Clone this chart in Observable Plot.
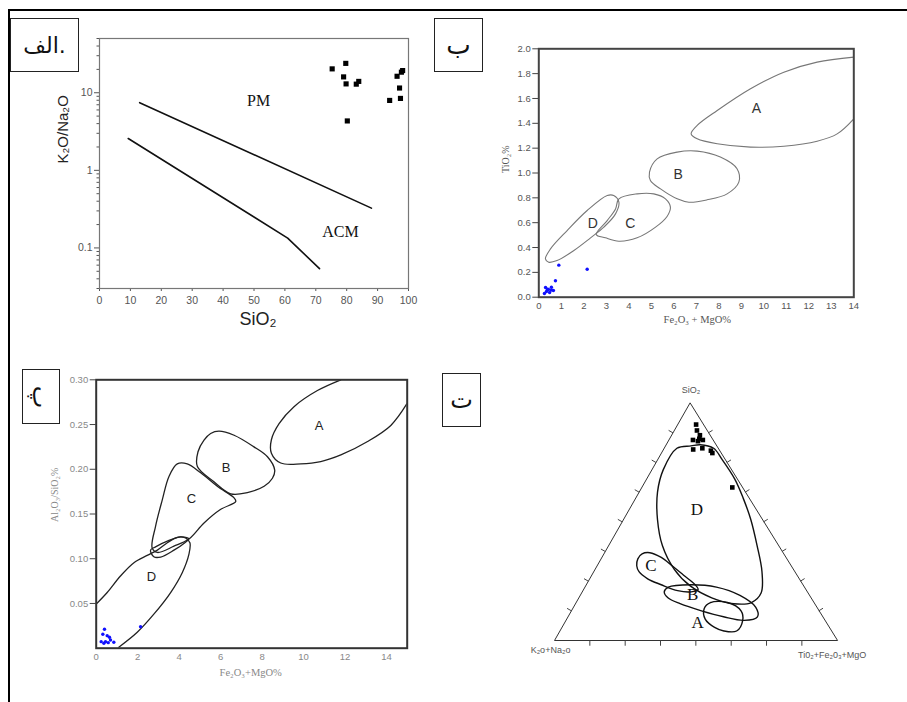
<!DOCTYPE html>
<html>
<head>
<meta charset="utf-8">
<script src="https://cdn.jsdelivr.net/npm/d3@7"></script>
<script src="https://cdn.jsdelivr.net/npm/@observablehq/plot@0.6"></script>
<style>
  html, body { margin: 0; padding: 0; background: #fff; }
  body { width: 907px; height: 702px; position: relative; overflow: hidden; }
  .panel { position: absolute; }
  .panel svg { display: block; max-width: none; }
  .rule { position: absolute; background: #000; z-index: 5; }
  .tag { position: absolute; box-sizing: border-box; border: 1.5px solid #222; background: #fff;
         font-family: "DejaVu Sans", sans-serif; color: #111; display: flex;
         align-items: center; justify-content: center; z-index: 4; }
</style>
</head>
<body>
<div class="rule" style="left:8px;top:9px;width:899px;height:2px"></div>
<div class="rule" style="left:8px;top:9px;width:2px;height:693px"></div>
<div class="tag" style="left:10px;top:18px;width:69px;height:54px;font-size:22px">الف.</div>
<div class="tag" style="left:434px;top:18px;width:49px;height:54px;font-size:26px">ب</div>
<div class="tag" style="left:22px;top:369px;width:38px;height:55px;font-size:24px"><span style="display:inline-block;transform:rotate(90deg)">پ</span></div>
<div class="tag" style="left:442px;top:373px;width:39px;height:54px;font-size:24px">ت</div>
<div class="panel" id="pA" style="left:0;top:0"></div>
<div class="panel" id="pB" style="left:450px;top:0"></div>
<div class="panel" id="pC" style="left:0;top:345px"></div>
<div class="panel" id="pD" style="left:450px;top:345px"></div>
<script>
const SANS = "'Liberation Sans', Arial, sans-serif";
const SERIF = "'Liberation Serif', 'Times New Roman', serif";

// ---------- Panel الف : SiO2 vs K2O/Na2O (log) ----------
const aSamplesSiO2 = [75.3, 79.7, 79.0, 79.8, 83.1, 83.9, 80.2, 93.9, 96.3, 97.7, 98.1, 97.1, 97.4];
const aSamplesRatio = [20.3, 23.9, 16.0, 13.0, 12.9, 14.0, 4.33, 7.96, 16.3, 18.4, 19.3, 11.5, 8.45];
const aUpperLineSiO2 = [13, 88];
const aUpperLineRatio = [7.45, 0.326];
const aLowerLineSiO2 = [9.3, 60.9, 71.2];
const aLowerLineRatio = [2.57, 0.134, 0.054];
const aFieldNames = ["PM", "ACM"];
const aFieldSiO2 = [51.5, 78];
const aFieldRatio = [7.97, 0.163];
const aXTicks = [0, 10, 20, 30, 40, 50, 60, 70, 80, 90, 100];
const aYTicks = [0.1, 1, 10];
const aYMinorTicks = [0.03, 0.04, 0.05, 0.06, 0.07, 0.08, 0.09, 0.2, 0.3, 0.4, 0.5, 0.6, 0.7, 0.8, 0.9,
                      2, 3, 4, 5, 6, 7, 8, 9, 20, 30, 40, 50];

// ---------- Panel ب : Fe2O3+MgO vs TiO2 ----------
const bFieldA = [[14.0,1.933],[12.37,1.893],[10.89,1.812],[9.41,1.678],[7.93,1.503],[7.04,1.383],[6.77,1.315],
                 [7.04,1.275],[7.93,1.235],[9.41,1.208],[10.89,1.216],[12.37,1.256],[13.26,1.315],[14.0,1.436]];
const bFieldB = [[4.92,1.007],[5.26,1.114],[6.15,1.168],[7.04,1.176],[8.07,1.128],[8.81,1.034],[8.89,0.926],
                 [8.37,0.832],[7.48,0.784],[6.67,0.765],[6.15,0.792],[5.41,0.872],[4.96,0.940]];
const bFieldC = [[3.56,0.792],[4.37,0.832],[5.11,0.832],[5.63,0.792],[5.85,0.725],[5.70,0.650],[5.19,0.564],
                 [4.37,0.478],[3.56,0.451],[2.96,0.478],[2.55,0.505],[3.04,0.617],[3.41,0.711]];
const bFieldD = [[0.296,0.309],[0.52,0.389],[1.26,0.537],[2.15,0.698],[3.04,0.819],[3.33,0.819],[3.56,0.765],
                 [3.41,0.671],[2.89,0.564],[2.30,0.478],[1.56,0.376],[0.81,0.295],[0.44,0.282]];
const bFieldLabels = ["A", "B", "C", "D"];
const bFieldLabelX = [9.67, 6.19, 4.07, 2.40];
const bFieldLabelY = [1.517, 0.988, 0.596, 0.596];
const bSamplesFeMg = [0.89, 2.15, 0.74, 0.30, 0.43, 0.56, 0.65, 0.34, 0.48, 0.25, 0.56, 0.39];
const bSamplesTiO2 = [0.258, 0.225, 0.132, 0.078, 0.062, 0.058, 0.054, 0.046, 0.038, 0.030, 0.080, 0.064];
const bXTicks = [0,1,2,3,4,5,6,7,8,9,10,11,12,13,14];
const bYTicks = [0,0.2,0.4,0.6,0.8,1.0,1.2,1.4,1.6,1.8,2.0];

// ---------- Panel پ : Fe2O3+MgO vs Al2O3/SiO2 ----------
const cFieldA = [[11.80,0.300],[10.67,0.288],[9.54,0.270],[8.82,0.251],[8.45,0.233],[8.45,0.218],[8.90,0.207],
                 [9.87,0.206],[10.83,0.2085],[11.80,0.216],[13.09,0.231],[14.21,0.249],[14.98,0.273]];
const cFieldB = [[5.92,0.2426],[6.65,0.238],[7.61,0.225],[8.26,0.214],[8.61,0.199],[8.50,0.190],[8.10,0.181],
                 [7.29,0.174],[6.49,0.1726],[5.68,0.186],[4.88,0.203],[4.91,0.2196],[5.20,0.2326],[5.52,0.240]];
const cFieldC = [[3.91,0.206],[4.39,0.206],[5.04,0.196],[5.84,0.181],[6.65,0.168],[6.73,0.164],[5.99,0.155],
                 [5.20,0.140],[4.47,0.122],[3.75,0.114],[2.95,0.107],[2.70,0.112],[2.86,0.136],[3.19,0.166],[3.51,0.192]];
const cFieldD = [[0,0.0493],[0.53,0.0622],[1.17,0.0807],[1.82,0.0956],[2.46,0.1037],[2.95,0.1096],[3.43,0.1178],
                 [3.91,0.124],[4.31,0.1233],[4.52,0.1178],[4.47,0.1048],[4.15,0.0844],[3.59,0.0622],[2.78,0.038],
                 [1.98,0.0178],[1.09,0.0011]];
const cFieldDInner = [[2.62,0.1096],[2.78,0.1022],[3.11,0.1019],[3.75,0.1096],[4.31,0.1185],[4.47,0.1222],
                      [4.07,0.1244],[3.43,0.1196],[2.86,0.1133]];
const cFieldLabels = ["A", "B", "C", "D"];
const cFieldLabelX = [10.75, 6.26, 4.59, 2.66];
const cFieldLabelY = [0.249, 0.202, 0.167, 0.080];
const cSamplesFeMg = [0.40, 0.32, 0.53, 0.64, 0.24, 0.45, 0.69, 0.85, 0.37, 0.58, 2.14];
const cSamplesRatio = [0.0211, 0.0156, 0.014, 0.0122, 0.0073, 0.0073, 0.0092, 0.0067, 0.0056, 0.0062, 0.024];
const cXTicks = [0, 2, 4, 6, 8, 10, 12, 14];
const cYTicks = [0.05, 0.10, 0.15, 0.20, 0.25, 0.30];

// ---------- Panel ت : ternary [SiO2, K2O+Na2O, TiO2+Fe2O3+MgO] % ----------
const dFieldA = [[13.5,40,46.5],[16,36.5,47.5],[16,30.5,53.5],[12.5,27.5,60],[8.5,29,62.5],[4,33.5,62.5],
                 [4,38,58],[5.5,40.5,54],[9,42,49]];
const dFieldB = [[20.5,50.5,29],[22.5,48,29.5],[23.5,39.5,37],[22.5,31,46.5],[19,24.5,56.5],[14,21.5,64.5],
                 [10,23,67],[8.5,28.5,63],[10,35,55],[12.5,41.5,46],[15.5,47.5,37],[18,50.5,31.5]];
const dFieldC = [[34.4,52.6,13],[36.5,50,13.5],[37,47,16],[35,44,21],[31.5,42,26.5],[27.5,40,32.5],
                 [23.5,38,38.5],[21.5,38,40.5],[20.5,41,38.5],[21,45.5,33.5],[23.5,50,26.5],[26,53.5,20.5],
                 [29,55,16],[31.5,54.5,14]];
const dFieldD = [[82,9,9],[81,14.5,4.5],[72,24,4],[62.5,31,6.5],[51,37,12],[40,41,19],[30,42,28],[23,40,37],
                 [18,35,47],[15.5,28.5,56],[16,22,62],[20,16.5,63.5],[29,11.5,59.5],[40,7.5,52.5],[51,4,45],
                 [60,2,38],[68,0.8,31.2],[76.5,1,22.5],[81,1.5,17.5],[82.5,5.5,12]];
const dFieldLabels = ["A", "B", "C", "D"];
const dFieldLabelPos = [[7.5,45.5,47],[19.5,41,39.5],[31.5,49.5,19],[55,21,24]];
const dSamples = [[91,2.5,6.5],[88.5,3.5,8],[86.5,3.5,10],[85,4.5,10.5],[84.5,3.5,12],[84.5,7,8.5],
                  [84,5.5,10.5],[80.5,9,10.5],[81,5.5,13.5],[80,3,17],[79,3,18],[64.5,3.5,32]];
const dVertexNames = ["SiO₂", "K₂o+Na₂o", "Ti0₂+Fe₂0₃+MgO"];
const dTickValues = [12.5, 25, 37.5, 50, 62.5, 75, 87.5];

// ===================================================================
const toRows = (xs, ys) => xs.map((x, i) => ({x, y: ys[i]}));
const pairRows = (arr) => arr.map(([x, y]) => ({x, y}));

// Panel الف
const pA = Plot.plot({
  width: 450, height: 345,
  marginLeft: 99, marginRight: 42, marginTop: 38, marginBottom: 57,
  x: {domain: [0, 100]},
  y: {type: "log", domain: [0.03, 50]},
  style: {fontFamily: SANS, fontSize: "10.5px", color: "#555", background: "white"},
  marks: [
    Plot.axisX({ticks: aXTicks, tickSize: 3, tickPadding: 5, label: null}),
    Plot.axisY({ticks: aYTicks, tickSize: 5, tickPadding: 2, tickFormat: d => String(d), label: null}),
    Plot.axisY({ticks: aYMinorTicks, tickSize: 2.5, tickFormat: () => "", label: null}),
    Plot.frame({stroke: "#777", strokeWidth: 1.2}),
    Plot.line(toRows(aUpperLineSiO2, aUpperLineRatio), {x: "x", y: "y", stroke: "#111", strokeWidth: 1.6}),
    Plot.line(toRows(aLowerLineSiO2, aLowerLineRatio), {x: "x", y: "y", stroke: "#111", strokeWidth: 1.6}),
    Plot.text(aFieldNames, {x: (d, i) => aFieldSiO2[i], y: (d, i) => aFieldRatio[i], text: d => d,
      fontFamily: SERIF, fontSize: 16, fill: "#111"}),
    Plot.dot(toRows(aSamplesSiO2, aSamplesRatio), {x: "x", y: "y", symbol: "square", r: 2.9, fill: "#000", stroke: null}),
    Plot.text(["K₂O/Na₂O"], {text: d => d, frameAnchor: "left", dx: -36, rotate: -90, fontSize: 15, fill: "#222"}),
    Plot.text(["SiO₂"], {text: d => d, frameAnchor: "bottom", dx: 4, dy: 36, fontSize: 18, fill: "#222"})
  ]
});
document.getElementById("pA").append(pA);

// Panel ب
const bShape = (arr, curve) => Plot.line(pairRows(arr), {x: "x", y: "y", curve, stroke: "#777", strokeWidth: 1.1, clip: "frame"});
const pB = Plot.plot({
  width: 457, height: 345,
  marginLeft: 88.3, marginRight: 53.7, marginTop: 48.3, marginBottom: 48.3,
  x: {domain: [0, 14]},
  y: {domain: [0, 2]},
  style: {fontFamily: SANS, fontSize: "9.5px", color: "#555", background: "white"},
  marks: [
    Plot.axisX({ticks: bXTicks, tickSize: 0, tickPadding: 5, label: null}),
    Plot.axisY({ticks: bYTicks, tickSize: 6, tickPadding: 2, tickFormat: d3.format(".1f"), label: null, stroke: "#444"}),
    bShape(bFieldA, "catmull-rom"),
    bShape(bFieldB, "catmull-rom-closed"),
    bShape(bFieldC, "catmull-rom-closed"),
    bShape(bFieldD, "catmull-rom-closed"),
    Plot.frame({stroke: "#444", strokeWidth: 2}),
    Plot.text(bFieldLabels, {x: (d, i) => bFieldLabelX[i], y: (d, i) => bFieldLabelY[i], text: d => d,
      fontFamily: SANS, fontSize: 14, fill: "#333"}),
    Plot.dot(toRows(bSamplesFeMg, bSamplesTiO2), {x: "x", y: "y", r: 1.7, fill: "#1010ff", stroke: null}),
    Plot.text(["TiO₂%"], {text: d => d, frameAnchor: "left", dx: -33, rotate: -90, fontFamily: SERIF, fontSize: 10, fill: "#555"}),
    Plot.text(["Fe₂O₃ + MgO%"], {text: d => d, frameAnchor: "bottom", dx: 1, dy: 26, fontFamily: SERIF, fontSize: 10.5, fill: "#555"})
  ]
});
document.getElementById("pB").append(pB);

// Panel پ
const cShape = (arr, curve) => Plot.line(pairRows(arr), {x: "x", y: "y", curve, stroke: "#222", strokeWidth: 1.3, clip: "frame"});
const pC = Plot.plot({
  width: 450, height: 357,
  marginLeft: 95.7, marginRight: 43.3, marginTop: 34.3, marginBottom: 54.3,
  x: {domain: [0, 15]},
  y: {domain: [0, 0.30]},
  style: {fontFamily: SANS, fontSize: "9.5px", color: "#888", background: "white"},
  marks: [
    Plot.axisX({ticks: cXTicks, tickSize: 0, tickPadding: 5, label: null}),
    Plot.axisY({ticks: cYTicks, tickSize: 6, tickPadding: 2, tickFormat: d3.format(".2f"), label: null, stroke: "#444"}),
    cShape(cFieldA, "catmull-rom"),
    cShape(cFieldB, "catmull-rom-closed"),
    cShape(cFieldC, "catmull-rom-closed"),
    cShape(cFieldD, "catmull-rom"),
    cShape(cFieldDInner, "catmull-rom-closed"),
    Plot.frame({stroke: "#333", strokeWidth: 2}),
    Plot.text(cFieldLabels, {x: (d, i) => cFieldLabelX[i], y: (d, i) => cFieldLabelY[i], text: d => d,
      fontFamily: SANS, fontSize: 13, fill: "#222"}),
    Plot.dot(toRows(cSamplesFeMg, cSamplesRatio), {x: "x", y: "y", r: 1.7, fill: "#1010ff", stroke: null}),
    Plot.text(["Al₂O₃/SiO₂%"], {text: d => d, frameAnchor: "left", dx: -41, dy: 8, rotate: -90, fontFamily: SERIF, fontSize: 10, fill: "#888"}),
    Plot.text(["Fe₂O₃+MgO%"], {text: d => d, frameAnchor: "bottom", dx: -1, dy: 28, fontFamily: SERIF, fontSize: 10.5, fill: "#888"})
  ]
});
document.getElementById("pC").append(pC);

// Panel ت (ternary)
const APEX = 0.479;               // horizontal position of the SiO2 apex along the base
const tern = ([s, k, t]) => { const n = s + k + t; return {x: t / n + APEX * s / n, y: s / n}; };
const dVerts = [[100, 0, 0], [0, 100, 0], [0, 0, 100]].map(tern);
const dTicks = [];
for (const v of dTickValues) {
  const pb = tern([0, 100 - v, v]);   dTicks.push({x1: pb.x, y1: pb.y, x2: pb.x, y2: pb.y - 0.022});
  const pl = tern([v, 100 - v, 0]);   dTicks.push({x1: pl.x, y1: pl.y, x2: pl.x - 0.0154, y2: pl.y + 0.0105});
  const pr = tern([v, 0, 100 - v]);   dTicks.push({x1: pr.x, y1: pr.y, x2: pr.x + 0.015, y2: pr.y + 0.011});
}
const dShape = (arr) => Plot.line(arr.map(tern), {x: "x", y: "y", curve: "catmull-rom-closed", stroke: "#111", strokeWidth: 1.4});
const vertexLabel = (i, dx, dy) => Plot.text([dVertexNames[i]], {x: dVerts[i].x, y: dVerts[i].y, text: d => d,
  dx, dy, fontSize: 9, fill: "#555"});
const pD = Plot.plot({
  width: 457, height: 357,
  marginLeft: 104, marginRight: 70.3, marginTop: 57.7, marginBottom: 62,
  x: {domain: [0, 1], axis: null},
  y: {domain: [0, 1], axis: null},
  style: {fontFamily: SANS, fontSize: "9px", color: "#555", background: "white"},
  marks: [
    Plot.line(dVerts, {x: "x", y: "y", curve: "linear-closed", stroke: "#333", strokeWidth: 1}),
    Plot.link(dTicks, {x1: "x1", y1: "y1", x2: "x2", y2: "y2", stroke: "#444", strokeWidth: 1}),
    dShape(dFieldA), dShape(dFieldB), dShape(dFieldC), dShape(dFieldD),
    Plot.text(dFieldLabels, {x: (d, i) => tern(dFieldLabelPos[i]).x, y: (d, i) => tern(dFieldLabelPos[i]).y,
      text: d => d, fontFamily: SERIF, fontSize: 17, fill: "#111"}),
    Plot.dot(dSamples.map(tern), {x: "x", y: "y", symbol: "square", r: 2.6, fill: "#000", stroke: null}),
    vertexLabel(0, 1, -13),
    vertexLabel(1, -4, 10),
    vertexLabel(2, -5, 15)
  ]
});
document.getElementById("pD").append(pD);
</script>
</body>
</html>
